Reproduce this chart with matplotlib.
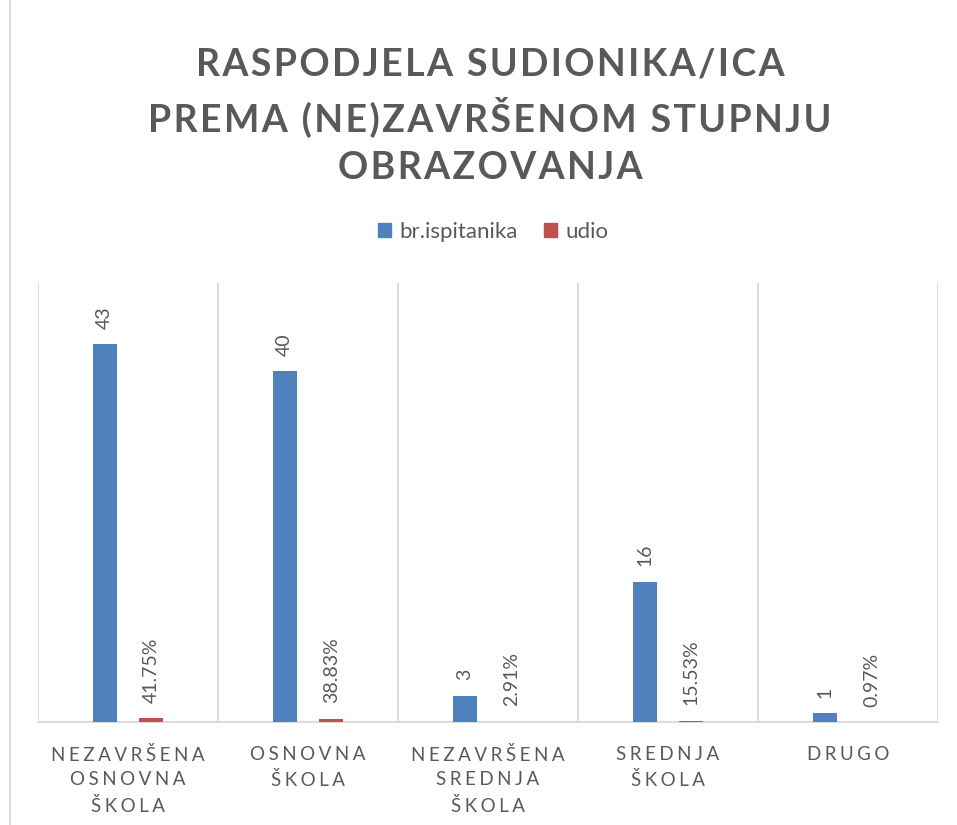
import matplotlib
matplotlib.use("Agg")
import matplotlib.pyplot as plt
import numpy as np
from matplotlib.lines import Line2D

plt.rcParams['font.family'] = ['Lato', 'DejaVu Sans']

categories = ["NEZAVRŠENA\nOSNOVNA\nŠKOLA", "OSNOVNA\nŠKOLA", "NEZAVRŠENA\nSREDNJA\nŠKOLA", "SREDNJA\nŠKOLA", "DRUGO"]
br_ispitanika = [43, 40, 3, 16, 1]
udio = [0.4175, 0.3883, 0.0291, 0.1553, 0.0097]
series_names = ["br.ispitanika", "udio"]
title = "RASPODJELA SUDIONIKA/ICA\nPREMA (NE)ZAVRŠENOM STUPNJU\nOBRAZOVANJA"

BLUE = "#4F81BD"
RED = "#C0504D"
GRAY = "#595959"
GRID = "#D9D9D9"

def spaced(s, sep="\u2009"):
    return "\n".join(sep.join(list(line)) for line in s.split("\n"))

fig = plt.figure(figsize=(9.57, 8.25), dpi=100)
ax = fig.add_axes([38/957, 103/825, 900/957, 439/825])

x = np.arange(len(categories))
w = 0.133
off = 0.13
b1 = ax.bar(x - off, br_ispitanika, w, color=BLUE, label=series_names[0], zorder=3)
b2 = ax.bar(x + off, udio, w, color=RED, label=series_names[1], zorder=3)

for rect, v in zip(b1, br_ispitanika):
    ax.annotate(f"{v}", (rect.get_x() + rect.get_width()/2, rect.get_height()),
                xytext=(0, 11), textcoords="offset points", rotation=90,
                ha="center", va="bottom", fontsize=14, color=GRAY)
for rect, v in zip(b2, udio):
    ax.annotate(f"{v*100:.2f}%", (rect.get_x() + rect.get_width()/2, rect.get_height()),
                xytext=(0, 11), textcoords="offset points", rotation=90,
                ha="center", va="bottom", fontsize=14, color=GRAY)

ax.set_xlim(-0.5, len(categories) - 0.5)
ax.set_ylim(0, 50)
for xv in np.arange(-0.5, len(categories), 1.0):
    ax.axvline(xv, color=GRID, lw=1.3, zorder=1)
for s in ["top", "right", "left"]:
    ax.spines[s].set_visible(False)
ax.spines["bottom"].set_color(GRID)
ax.spines["bottom"].set_linewidth(1.3)
ax.set_yticks([])
ax.set_xticks(x)
ax.set_xticklabels([spaced(c, "\u2009\u200a") for c in categories], fontsize=13.5, color=GRAY, linespacing=1.55)
ax.tick_params(axis="x", length=0, pad=17)

fig.text(490/957, 1 - 116/825, spaced(title, "\u200a"), ha="center", va="center",
         fontsize=27, fontweight="bold", color=GRAY, linespacing=1.45)

ax.legend(handles=[plt.Rectangle((0,0),1,1,color=BLUE), plt.Rectangle((0,0),1,1,color=RED)],
          labels=series_names, loc="center", bbox_to_anchor=(493/957, 1 - 232/825),
          bbox_transform=fig.transFigure, ncol=2, frameon=False, fontsize=16,
          labelcolor=GRAY, handlelength=0.6, handleheight=0.6, handletextpad=0.35, columnspacing=1.2)

fig.add_artist(Line2D([9.5/957, 9.5/957], [0, 1], transform=fig.transFigure, color=GRID, lw=1.3))

fig.savefig("out.png", dpi=100)
